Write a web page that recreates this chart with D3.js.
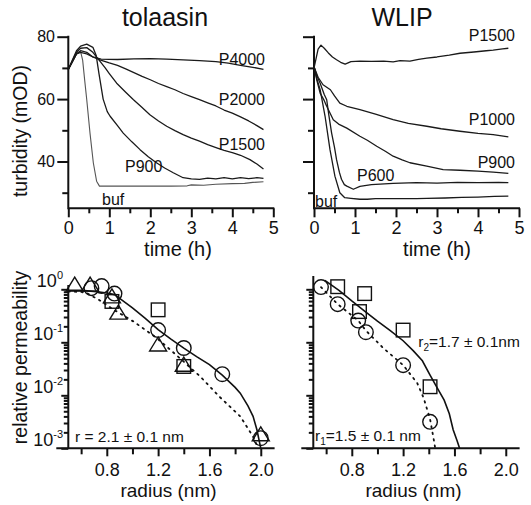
<!DOCTYPE html>
<html><head><meta charset="utf-8">
<script src="https://cdn.jsdelivr.net/npm/d3@7"></script>
<style>
body{margin:0;background:#fff}
text{font-family:"Liberation Sans",Arial,Helvetica,sans-serif;fill:#111}
</style>
</head><body>
<svg id="c" width="531" height="505"></svg>
<script>
// ---------------- data ----------------
const panelTitles = ["tolaasin", "WLIP"];
const timeTicks = [0, 1, 2, 3, 4, 5];
const timeMinor = [0.5, 1.5, 2.5, 3.5, 4.5];
const turbTicks = [40, 60, 80];
const turbMinor = [30, 50, 70];
const radiusTicks = [0.8, 1.2, 1.6, 2.0];
const radiusMinor = [0.6, 1.0, 1.4, 1.8];
const permDecades = [0.001, 0.01, 0.1, 1];
const permDecadeExp = ["-3", "-2", "-1", "0"];
const permMinor = [0.002,0.003,0.004,0.005,0.006,0.007,0.008,0.009,
                   0.02,0.03,0.04,0.05,0.06,0.07,0.08,0.09,
                   0.2,0.3,0.4,0.5,0.6,0.7,0.8,0.9];

// tolaasin turbidity traces [time h, mOD]
const tolBuf = [[0,69.5],[0.1,72],[0.2,74.5],[0.3,75.2],[0.35,72.5],[0.4,66],[0.45,59.8],[0.53,49],[0.61,39.6],[0.69,33.7],[0.76,32.1],[1,32.1],[1.5,32.1],[2,32.1],[2.5,32.1],[2.9,32.2],[3.0,32.5],[3.3,32.4],[3.6,32.7],[4.0,32.9],[4.3,33.0],[4.5,33.3],[4.76,33.5]];
const tolP900 = [[0,69.5],[0.1,72.5],[0.2,75.5],[0.3,77],[0.45,77.6],[0.6,76.6],[0.68,74],[0.75,68],[0.85,60],[0.95,56],[1.02,54.5],[1.2,51.5],[1.34,49.1],[1.55,46.3],[1.75,43.8],[1.95,41.5],[2.15,39.6],[2.35,37.9],[2.56,36.4],[2.8,34.8],[3.0,34.4],[3.2,34.3],[3.4,34.7],[3.6,34.4],[3.8,34.8],[4.0,34.4],[4.2,34.8],[4.4,34.5],[4.6,34.8],[4.76,34.6]];
const tolP1500 = [[0,69.5],[0.1,72.3],[0.2,75],[0.3,76.3],[0.45,76.5],[0.6,75],[0.77,72.2],[0.9,70],[1.0,68.2],[1.18,65.1],[1.4,62.2],[1.59,59.8],[1.8,57.3],[1.99,55],[2.2,53],[2.4,51.3],[2.6,49.9],[2.8,48.6],[3.0,47.5],[3.2,46.5],[3.4,45.4],[3.62,44.4],[3.8,43.6],[4.02,42.8],[4.2,42],[4.43,40.6],[4.6,39.2],[4.76,37.6]];
const tolP2000 = [[0,69.5],[0.1,72],[0.2,74.5],[0.3,75.5],[0.45,75],[0.6,73.5],[0.77,72.6],[1.0,71.6],[1.2,70.8],[1.4,69.7],[1.6,68.5],[1.8,67.3],[2.0,66.2],[2.2,65],[2.4,64],[2.6,63],[2.8,61.8],[3.0,60.8],[3.2,59.8],[3.4,58.8],[3.6,57.8],[3.8,56.5],[4.0,55.5],[4.2,54.3],[4.4,53],[4.6,51.5],[4.76,50.2]];
const tolP4000 = [[0,69.5],[0.1,72],[0.2,74.5],[0.3,75],[0.45,74.5],[0.6,73.5],[0.8,72.8],[1.2,72.7],[1.6,72.9],[2.0,73],[2.4,72.8],[2.8,72.6],[3.2,72.3],[3.6,72],[3.9,71.5],[4.2,70.8],[4.5,70.2],[4.76,69.5]];

// WLIP turbidity traces [time h, mOD]
const wBuf = [[0,70.4],[0.07,66.5],[0.15,63],[0.27,54.5],[0.39,43.8],[0.51,35.3],[0.63,30],[0.75,28.4],[0.9,28.2],[1.12,27.9],[1.3,27.9],[1.5,28.1],[2.0,28.1],[2.5,28.1],[2.75,28.2],[3.2,28.3],[3.6,28.5],[4.0,28.6],[4.4,28.8],[4.74,28.9]];
const wP600 = [[0,70.4],[0.07,67.5],[0.15,65.1],[0.25,61.5],[0.31,59.8],[0.36,55],[0.43,49.1],[0.5,44.5],[0.55,40.6],[0.62,36.5],[0.67,34.3],[0.74,32.6],[0.8,32.1],[0.96,31.1],[1.12,32],[1.4,32.6],[1.93,33],[2.5,33.2],[3.0,33.1],[3.5,33.3],[4.0,33.2],[4.5,33.3],[4.74,33.2]];
const wP900 = [[0,70.4],[0.07,66],[0.15,61.9],[0.25,59.5],[0.31,57.7],[0.47,53.4],[0.6,52],[0.8,50.7],[1.12,48.1],[1.3,46.8],[1.53,44.9],[1.75,43.2],[1.93,41.7],[2.15,40.5],[2.34,39.6],[2.75,38.5],[3.15,37.4],[3.56,37.2],[4.0,36.9],[4.37,36.6],[4.74,36.2]];
const wP1000 = [[0,70.4],[0.1,67],[0.22,64.6],[0.4,63],[0.5,61],[0.63,58.7],[0.8,57.7],[1.12,56.6],[1.5,55.2],[1.93,53.4],[2.3,52.2],[2.75,51.3],[3.1,50.5],[3.56,49.7],[4.0,49.0],[4.37,48.6],[4.74,47.9]];
const wP1500 = [[0,69.9],[0.05,73],[0.1,76],[0.17,77.3],[0.25,76.3],[0.35,74.8],[0.45,73.5],[0.55,72.6],[0.65,71.8],[0.76,71.2],[0.9,72],[1.12,72.2],[1.4,72.1],[1.7,72.2],[1.93,71.9],[2.1,72.3],[2.34,72.2],[2.55,72.7],[2.75,73.1],[3.0,73.5],[3.3,74.1],[3.56,74.7],[3.9,75.1],[4.2,75.5],[4.37,75.7],[4.6,76.1],[4.74,76.3]];

// tolaasin permeability [radius nm, relative permeability]
const tolCircR = [0.68, 0.76, 0.86, 1.20, 1.40, 1.70, 2.00];
const tolCircP = [1.05, 1.15, 0.83, 0.17, 0.078, 0.025, 0.00155];
const tolTriR = [0.55, 0.67, 0.84, 0.89, 1.20, 1.40, 2.00];
const tolTriP = [1.2, 1.2, 0.72, 0.355, 0.089, 0.037, 0.0018];
const tolSqR = [0.84, 1.20, 1.40];
const tolSqP = [0.59, 0.41, 0.035];
const tolFitR = [0.5,0.6,0.7,0.8,0.86,0.9,1.0,1.1,1.2,1.3,1.4,1.5,1.6,1.7,1.8,1.84,1.9,1.94,1.97,2.0];
const tolFitP = [0.955,0.955,0.912,0.851,0.794,0.676,0.447,0.282,0.174,0.115,0.0776,0.0537,0.038,0.024,0.0141,0.011,0.0063,0.004,0.00224,0.001];
const tolDotR = [0.5,0.6,0.65,0.74,0.85,1.01,1.19,1.37,1.53,1.68,1.84,1.94,1.98];
const tolDotP = [0.912,0.891,0.832,0.631,0.417,0.245,0.12,0.05,0.0224,0.0093,0.004,0.00166,0.001];

// WLIP permeability
const wCircR = [0.56, 0.69, 0.85, 0.91, 1.20, 1.41];
const wCircP = [1.1, 0.525, 0.257, 0.155, 0.037, 0.00316];
const wSqR = [0.69, 0.90, 0.86, 1.20, 1.41];
const wSqP = [1.12, 0.83, 0.38, 0.17, 0.0145];
const wFitR = [0.59,0.7,0.8,0.9,1.0,1.1,1.2,1.28,1.35,1.41,1.47,1.52,1.56,1.59,1.62,1.64];
const wFitP = [1.48,0.955,0.603,0.389,0.251,0.166,0.107,0.069,0.0447,0.024,0.0132,0.0081,0.00447,0.00224,0.00141,0.001];
const wDotR = [0.56,0.69,0.85,0.91,1.05,1.2,1.31,1.36,1.41,1.44,1.45];
const wDotP = [1.1,0.525,0.257,0.166,0.0759,0.0372,0.017,0.0089,0.00355,0.00141,0.001];

// ---------------- drawing ----------------
const svg = d3.select("#c");
const INK = "#111";
svg.append("defs").append("clipPath").attr("id","pageclip")
  .append("rect").attr("x",0).attr("y",0).attr("width",523).attr("height",505);

function styleAxis(g, fs){
  g.select(".domain").remove();
  g.attr("font-family", null).attr("font-size", fs);
  g.selectAll(".tick line").attr("stroke", INK).attr("stroke-width", 2);
  g.selectAll(".tick text").attr("fill", INK);
}

function drawTop(x0, title, titleX, series, labels, showY, xTitleX){
  const x = d3.scaleLinear().domain([0,5]).range([x0, x0+205]);
  const y = d3.scaleLinear().domain([25,80]).range([208.3, 36.7]);
  const g = svg.append("g");
  g.append("text").attr("x", titleX).attr("y", 26).attr("text-anchor","middle")
    .attr("font-size", 25).text(title);
  g.append("g").attr("transform",`translate(0,${y(25)})`)
    .call(d3.axisBottom(x).tickValues(timeTicks).tickSize(9).tickPadding(3.9).tickFormat(d3.format("d")))
    .call(a=>styleAxis(a,18));
  g.append("g").attr("transform",`translate(0,${y(25)})`)
    .call(d3.axisBottom(x).tickValues(timeMinor).tickSize(5).tickFormat(""))
    .call(a=>styleAxis(a,18));
  g.append("g").attr("transform",`translate(${x(0)},0)`)
    .call(d3.axisLeft(y).tickValues(turbTicks).tickSize(11).tickPadding(2.3).tickFormat(showY ? d3.format("d") : ""))
    .call(a=>styleAxis(a,16));
  g.append("g").attr("transform",`translate(${x(0)},0)`)
    .call(d3.axisLeft(y).tickValues(turbMinor).tickSize(6).tickFormat(""))
    .call(a=>styleAxis(a,16));
  g.append("path").attr("d",`M${x(0)},${y(80)}V${y(25)}H${x(5)}`)
    .attr("fill","none").attr("stroke",INK).attr("stroke-width",2).attr("stroke-linecap","square");
  g.append("text").attr("x", xTitleX).attr("y", 256).attr("text-anchor","middle")
    .attr("font-size", 20).text("time (h)");
  const line = d3.line().x(d=>x(d[0])).y(d=>y(d[1]));
  series.forEach(s=>{
    g.append("path").attr("d", line(s.data)).attr("fill","none")
      .attr("stroke", s.color || "#1a1a1a").attr("stroke-width", s.w || 1.3)
      .attr("stroke-linejoin","round");
  });
  labels.forEach(l=>{
    g.append("text").attr("x", l.x).attr("y", l.y).attr("text-anchor", l.anchor)
      .attr("font-size", 16).text(l.text);
  });
}

drawTop(68.3, panelTitles[0], 165, [
  {data: tolBuf, color:"#555", w:1.1},
  {data: tolP900}, {data: tolP1500}, {data: tolP2000}, {data: tolP4000}
], [
  {text:"P4000", x:265, y:65, anchor:"end"},
  {text:"P2000", x:265, y:105, anchor:"end"},
  {text:"P1500", x:265, y:150, anchor:"end"},
  {text:"P900", x:125, y:172, anchor:"start"},
  {text:"buf", x:102, y:205, anchor:"start"}
], true, 178);

drawTop(314, panelTitles[1], 402, [
  {data: wBuf}, {data: wP600}, {data: wP900}, {data: wP1000}, {data: wP1500}
], [
  {text:"P1500", x:515, y:41, anchor:"end"},
  {text:"P1000", x:515, y:125, anchor:"end"},
  {text:"P900", x:515, y:168, anchor:"end"},
  {text:"P600", x:357, y:181, anchor:"start"},
  {text:"buf", x:315, y:206.5, anchor:"start"}
], false, 437);

svg.append("text").attr("transform","translate(27,131) rotate(-90)")
  .attr("text-anchor","middle").attr("font-size",19.5).text("turbidity (mOD)");
svg.append("text").attr("transform","translate(27,357.5) rotate(-90)")
  .attr("text-anchor","middle").attr("font-size",19.5).text("relative permeability");

function drawBottom(x0, topP, showY, marks, fits, xTitleX){
  const x = d3.scaleLinear().domain([0.5,2.1]).range([x0, x0+205.3]);
  const y = d3.scaleLog().domain([0.001,1]).range([448.3, 289.3]);
  const g = svg.append("g");
  g.append("g").attr("transform",`translate(0,${y(0.001)})`)
    .call(d3.axisBottom(x).tickValues(radiusTicks).tickSize(8).tickPadding(6.8).tickFormat(d3.format(".1f")))
    .call(a=>styleAxis(a,18));
  g.append("g").attr("transform",`translate(0,${y(0.001)})`)
    .call(d3.axisBottom(x).tickValues(radiusMinor).tickSize(6).tickFormat(""))
    .call(a=>styleAxis(a,18));
  g.append("g").attr("transform",`translate(${x(0.5)},0)`)
    .call(d3.axisLeft(y).tickValues(permDecades).tickSize(7).tickFormat(""))
    .call(a=>styleAxis(a,18));
  g.append("g").attr("transform",`translate(${x(0.5)},0)`)
    .call(d3.axisLeft(y).tickValues(permMinor).tickSize(4.5).tickFormat(""))
    .call(a=>styleAxis(a,18));
  g.append("path").attr("d",`M${x(0.5)-11},${y(0.001)}H${x(2.1)}M${x(0.5)},${y(topP)}V${y(0.001)}`)
    .attr("fill","none").attr("stroke",INK).attr("stroke-width",2).attr("stroke-linecap","square");
  if(showY){
    permDecades.forEach((d,i)=>{
      const t = g.append("text").attr("x", 63).attr("y", y(d)-2).attr("text-anchor","end").attr("font-size",18);
      t.append("tspan").text("10");
      t.append("tspan").attr("font-size",11).attr("dy",-8).text(permDecadeExp[i]);
    });
  }
  g.append("text").attr("x", xTitleX).attr("y", 496.5).attr("text-anchor","middle")
    .attr("font-size", 19).text("radius (nm)");
  fits.forEach(f=>{
    const pts = f.r.map((r,i)=>[r, f.p[i]]);
    g.append("path").attr("d", d3.line().x(d=>x(d[0])).y(d=>y(d[1]))(pts))
      .attr("fill","none").attr("stroke",INK)
      .attr("stroke-width", f.dotted ? 1.8 : 1.6)
      .attr("stroke-dasharray", f.dotted ? "1.5,5" : null)
      .attr("stroke-linecap", f.dotted ? "round" : "butt");
  });
  marks.forEach(m=>{
    m.r.forEach((r,i)=>{
      const cx = x(r), cy = y(m.p[i]);
      if(m.shape==="circle"){
        g.append("circle").attr("cx",cx).attr("cy",cy).attr("r",7.3)
          .attr("fill","none").attr("stroke",INK).attr("stroke-width",1.4);
      } else if(m.shape==="tri"){
        g.append("path").attr("transform",`translate(${cx},${cy})`)
          .attr("d","M0,-8L8.5,6L-8.5,6Z")
          .attr("fill","none").attr("stroke",INK).attr("stroke-width",1.4);
      } else {
        g.append("rect").attr("x",cx-6.8).attr("y",cy-6.8).attr("width",13.6).attr("height",13.6)
          .attr("fill","none").attr("stroke",INK).attr("stroke-width",1.4);
      }
    });
  });
  return g;
}

drawBottom(68.3, 1.15, true, [
  {shape:"circle", r: tolCircR, p: tolCircP},
  {shape:"tri", r: tolTriR, p: tolTriP},
  {shape:"sq", r: tolSqR, p: tolSqP}
], [
  {r: tolFitR, p: tolFitP, dotted:false},
  {r: tolDotR, p: tolDotP, dotted:true}
], 168.5);

drawBottom(313.3, 1.7, false, [
  {shape:"circle", r: wCircR, p: wCircP},
  {shape:"sq", r: wSqR, p: wSqP}
], [
  {r: wFitR, p: wFitP, dotted:false},
  {r: wDotR, p: wDotP, dotted:true}
], 413.5);

svg.append("text").attr("x",75).attr("y",441.7).attr("font-size",15.5).text("r = 2.1 ± 0.1 nm");
const a1 = svg.append("text").attr("x",315).attr("y",441).attr("font-size",15.5);
a1.append("tspan").text("r");
a1.append("tspan").attr("font-size",10).attr("dy",4).text("1");
a1.append("tspan").attr("dy",-4).text("=1.5 ± 0.1 nm");
const a2 = svg.append("text").attr("x",418.3).attr("y",347).attr("font-size",15.5).attr("clip-path","url(#pageclip)");
a2.append("tspan").text("r");
a2.append("tspan").attr("font-size",10).attr("dy",4).text("2");
a2.append("tspan").attr("dy",-4).text("=1.7 ± 0.1nm");
</script>
</body></html>
